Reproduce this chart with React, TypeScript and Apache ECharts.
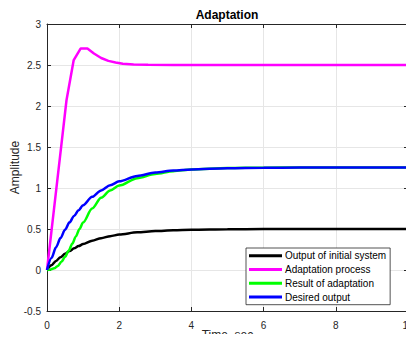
import React, { useEffect, useRef } from "react";
import * as echarts from "echarts";

const seriesNames = [
  "Output of initial system",
  "Adaptation process",
  "Result of adaptation",
  "Desired output",
];
const seriesColors = ["#000000", "#ff00ff", "#00ff00", "#0000ff"];

const tFirst = [0, 0.125, 0.25, 0.375, 0.5, 0.625, 0.75, 0.875, 1, 1.25, 1.5, 1.75, 2, 2.5, 3, 3.5, 4, 5, 6, 7, 8, 10];
const initialOutput = [0, 0.059, 0.111, 0.156, 0.197, 0.232, 0.264, 0.292, 0.316, 0.357, 0.388, 0.413, 0.432, 0.459, 0.475, 0.485, 0.491, 0.497, 0.499, 0.4995, 0.5, 0.5];
const desiredOutput = [0, 0.147, 0.277, 0.39, 0.492, 0.581, 0.66, 0.729, 0.79, 0.892, 0.971, 1.033, 1.081, 1.147, 1.188, 1.212, 1.227, 1.242, 1.247, 1.249, 1.25, 1.25];

const tAdapt = [0, 0.18, 0.36, 0.54, 0.74, 0.93, 1.12, 1.3, 1.5, 1.7, 1.9, 2.1, 2.4, 2.8, 3.5, 5, 10];
const adaptProcess = [0, 0.69, 1.38, 2.07, 2.56, 2.7, 2.7, 2.64, 2.585, 2.55, 2.53, 2.515, 2.507, 2.502, 2.5, 2.5, 2.5];

const tResult = [0, 0.1, 0.2, 0.3, 0.4, 0.5, 0.6, 0.7, 0.8, 0.9, 1, 1.25, 1.5, 1.75, 2, 2.5, 3, 3.5, 4, 5, 6, 7, 8, 10];
const adaptResult = [0, 0.006, 0.02, 0.05, 0.1, 0.16, 0.235, 0.32, 0.41, 0.5, 0.58, 0.75, 0.88, 0.97, 1.03, 1.12, 1.17, 1.205, 1.225, 1.243, 1.248, 1.25, 1.25, 1.25];

const pairs = (t: number[], v: number[]) => t.map((x, i) => [x, v[i]]);

const FONT = "'Liberation Sans', Arial, sans-serif";
const AX = "#262626";

export default function App() {
  const ref = useRef<HTMLDivElement>(null);
  useEffect(() => {
    if (!ref.current) return;
    const chart = echarts.init(ref.current, null, { renderer: "svg" });
    const data = [
      pairs(tFirst, initialOutput),
      pairs(tAdapt, adaptProcess),
      pairs(tResult, adaptResult),
      pairs(tFirst, desiredOutput),
    ];
    const baseAxisLine = { show: true, onZero: false, lineStyle: { color: AX, width: 1 } };
    chart.setOption({
      animation: false,
      backgroundColor: "#ffffff",
      title: {
        text: "Adaptation",
        left: 227,
        top: 9,
        padding: 0,
        textAlign: "center",
        textStyle: { fontFamily: FONT, fontSize: 12, fontWeight: "bold", color: "#000" },
      },
      legend: {
        orient: "vertical",
        left: 246,
        top: 248,
        padding: [1, 4, 1, 3],
        itemGap: 0.5,
        itemWidth: 33,
        itemHeight: 3,
        icon: "rect",
        backgroundColor: "#ffffff",
        borderColor: AX,
        borderWidth: 0.8,
        borderRadius: 0,
        data: seriesNames,
        textStyle: { fontFamily: FONT, fontSize: 10, color: "#000", lineHeight: 13.3, padding: [0, 0, 0, -2] },
      },
      grid: { left: 47, right: 6, top: 24, bottom: 31, containLabel: false, outerBoundsMode: "none" },
      xAxis: [
        {
          type: "value",
          min: 0,
          max: 10,
          interval: 2,
          name: "Time, sec",
          nameLocation: "middle",
          nameGap: 18,
          nameMoveOverlap: false,
          nameTextStyle: { fontFamily: FONT, fontSize: 12, color: AX },
          axisLine: baseAxisLine,
          axisTick: { show: true, inside: true, length: 4, lineStyle: { color: AX } },
          axisLabel: { fontFamily: FONT, fontSize: 10, color: AX, margin: 9 },
          splitLine: { show: true, lineStyle: { color: "#e6e6e6", width: 1 } },
        },
        {
          type: "value",
          position: "top",
          min: 0,
          max: 10,
          interval: 2,
          axisLine: baseAxisLine,
          axisTick: { show: true, inside: true, length: 4, lineStyle: { color: AX } },
          axisLabel: { show: false },
          splitLine: { show: false },
        },
      ],
      yAxis: [
        {
          type: "value",
          min: -0.5,
          max: 3,
          interval: 0.5,
          name: "Amplitude",
          nameLocation: "middle",
          nameGap: 26,
          nameMoveOverlap: false,
          nameTextStyle: { fontFamily: FONT, fontSize: 12, color: AX },
          axisLine: baseAxisLine,
          axisTick: { show: true, inside: true, length: 4, lineStyle: { color: AX } },
          axisLabel: { fontFamily: FONT, fontSize: 10, color: AX, margin: 6 },
          splitLine: { show: true, lineStyle: { color: "#e6e6e6", width: 1 } },
        },
        {
          type: "value",
          position: "right",
          min: -0.5,
          max: 3,
          interval: 0.5,
          axisLine: baseAxisLine,
          axisTick: { show: true, inside: true, length: 4, lineStyle: { color: AX } },
          axisLabel: { show: false },
          splitLine: { show: false },
        },
      ],
      series: seriesNames.map((name, i) => ({
        name,
        type: "line",
        data: data[i],
        showSymbol: false,
        symbol: "none",
        smooth: i === 1 ? false : 0.3,
        smoothMonotone: "x",
        color: seriesColors[i],
        lineStyle: { color: seriesColors[i], width: 2.5 },
        itemStyle: { color: seriesColors[i] },
        z: 2 + i,
      })),
    });
    return () => chart.dispose();
  }, []);
  return <div ref={ref} style={{ width: 414, height: 342, margin: -8 }} />;
}
